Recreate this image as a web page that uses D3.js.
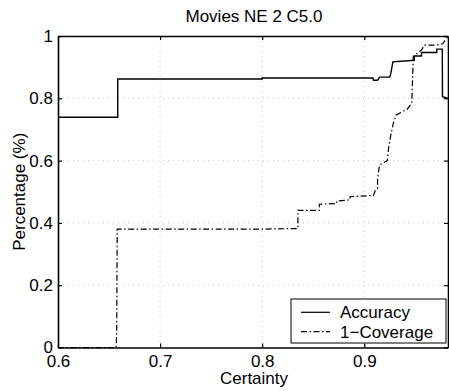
<!DOCTYPE html>
<html>
<head>
<meta charset="utf-8">
<script src="https://cdn.jsdelivr.net/npm/d3@7"></script>
<style>
  html, body { margin: 0; padding: 0; background: #fff; }
  svg { display: block; font-family: "Liberation Sans", Arial, sans-serif; }
</style>
</head>
<body>
<svg id="chart" width="449" height="391"></svg>
<script>
// Accuracy curve (solid), certainty threshold vs. value
const accCertainty = [0.6, 0.6585, 0.6585, 0.8, 0.8, 0.9085, 0.909, 0.913, 0.915, 0.925, 0.926, 0.928, 0.949, 0.949, 0.956, 0.956, 0.971, 0.971, 0.9764, 0.9766, 0.982];
const accValues    = [0.739, 0.739, 0.862, 0.862, 0.865, 0.865, 0.858, 0.858, 0.868, 0.868, 0.88, 0.917, 0.922, 0.936, 0.936, 0.947, 0.947, 0.958, 0.958, 0.805, 0.80];

// 1-Coverage curve (dash-dot)
const covCertainty = [0.6, 0.657, 0.6575, 0.658, 0.8, 0.835, 0.835, 0.856, 0.856, 0.873, 0.873, 0.886, 0.886, 0.909, 0.911, 0.913, 0.913, 0.915, 0.9225, 0.924, 0.926, 0.9285, 0.931, 0.942, 0.9465, 0.948, 0.952, 0.956, 0.959, 0.97, 0.9768, 0.982];
const covValues    = [0, 0, 0.06, 0.38, 0.38, 0.382, 0.44, 0.44, 0.46, 0.462, 0.47, 0.474, 0.484, 0.488, 0.506, 0.51, 0.543, 0.586, 0.60, 0.645, 0.682, 0.72, 0.746, 0.765, 0.784, 0.934, 0.945, 0.955, 0.971, 0.971, 0.975, 1.0];

const xTicks = [0.6, 0.7, 0.8, 0.9];
const yTicks = [0, 0.2, 0.4, 0.6, 0.8, 1];
const legendLabels = ["Accuracy", "1\u2212Coverage"];

const FONT = 17;
const svg = d3.select("#chart");
const margin = { left: 58, right: 1, top: 36, bottom: 43.5 };
const W = 449, H = 391;

const x = d3.scaleLinear().domain([0.6, 0.982]).range([margin.left, W - margin.right]);
const y = d3.scaleLinear().domain([0, 1]).range([H - margin.bottom, margin.top]);

const x0 = x.range()[0], x1 = x.range()[1];
const y0 = y.range()[0], y1 = y.range()[1];

// dotted grid
const grid = svg.append("g").attr("stroke", "#bbb").attr("stroke-width", 0.8).attr("stroke-dasharray", "1,4");
grid.selectAll(".gx").data(xTicks.slice(1)).enter().append("line")
  .attr("x1", d => x(d)).attr("x2", d => x(d)).attr("y1", y1).attr("y2", y0);
grid.selectAll(".gy").data(yTicks.slice(1, -1)).enter().append("line")
  .attr("x1", x0).attr("x2", x1).attr("y1", d => y(d)).attr("y2", d => y(d));

// curves
const line = (xs, vs) => d3.line().x((d, i) => x(xs[i])).y(d => y(d))(vs);

svg.append("path").attr("d", line(covCertainty, covValues))
  .attr("fill", "none").attr("stroke", "#000").attr("stroke-width", 1.2)
  .attr("stroke-dasharray", "6,2.5,1.5,2.5");

svg.append("path").attr("d", line(accCertainty, accValues))
  .attr("fill", "none").attr("stroke", "#000").attr("stroke-width", 1.4);

// axes (ticks pointing inward, on all four sides)
const tickLen = 4;
const gx = svg.append("g").attr("transform", `translate(0,${y0})`)
  .call(d3.axisBottom(x).tickValues(xTicks).tickSizeInner(-tickLen).tickSizeOuter(0).tickFormat(d3.format("")));
const gxTop = svg.append("g").attr("transform", `translate(0,${y1})`)
  .call(d3.axisTop(x).tickValues(xTicks).tickSizeInner(-tickLen).tickSizeOuter(0).tickFormat(""));
const gy = svg.append("g").attr("transform", `translate(${x0},0)`)
  .call(d3.axisLeft(y).tickValues(yTicks).tickSizeInner(-tickLen).tickSizeOuter(0).tickPadding(5).tickFormat(d3.format("")));
const gyRight = svg.append("g").attr("transform", `translate(${x1},0)`)
  .call(d3.axisRight(y).tickValues(yTicks).tickSizeInner(-tickLen).tickSizeOuter(0).tickFormat(""));

[gx, gxTop, gy, gyRight].forEach(g => {
  g.select(".domain").attr("stroke", "#000").attr("stroke-width", 1.6);
  g.selectAll(".tick line").attr("stroke", "#000").attr("stroke-width", 1.2);
  g.selectAll(".tick text").attr("fill", "#000").attr("font-size", FONT)
    .attr("font-family", "'Liberation Sans', Arial, sans-serif");
});
gx.selectAll(".tick text").attr("y", 19.5).attr("dy", 0);

// titles
svg.append("text").attr("x", (x0 + x1) / 2 + 1).attr("y", 22).attr("text-anchor", "middle")
  .attr("font-size", FONT).text("Movies NE 2 C5.0");
svg.append("text").attr("x", (x0 + x1) / 2 + 1).attr("y", 384).attr("text-anchor", "middle")
  .attr("font-size", FONT).text("Certainty");
svg.append("text").attr("transform", `translate(25,${(y0 + y1) / 2}) rotate(-90)`)
  .attr("text-anchor", "middle").attr("font-size", FONT).text("Percentage (%)");

// legend
const lg = svg.append("g").attr("transform", "translate(291,299)");
lg.append("rect").attr("width", 155).attr("height", 44).attr("fill", "#fff")
  .attr("stroke", "#000").attr("stroke-width", 1);
const styles = [null, "6,2.5,1.5,2.5"];
legendLabels.forEach((lab, i) => {
  const ly = 13.3 + i * 19.4;
  lg.append("line").attr("x1", 10).attr("x2", 39).attr("y1", ly).attr("y2", ly)
    .attr("stroke", "#000").attr("stroke-width", 1.2)
    .attr("stroke-dasharray", styles[i]);
  lg.append("text").attr("x", 49).attr("y", ly).attr("dy", "0.36em")
    .attr("font-size", FONT).text(lab);
});
</script>
</body>
</html>
